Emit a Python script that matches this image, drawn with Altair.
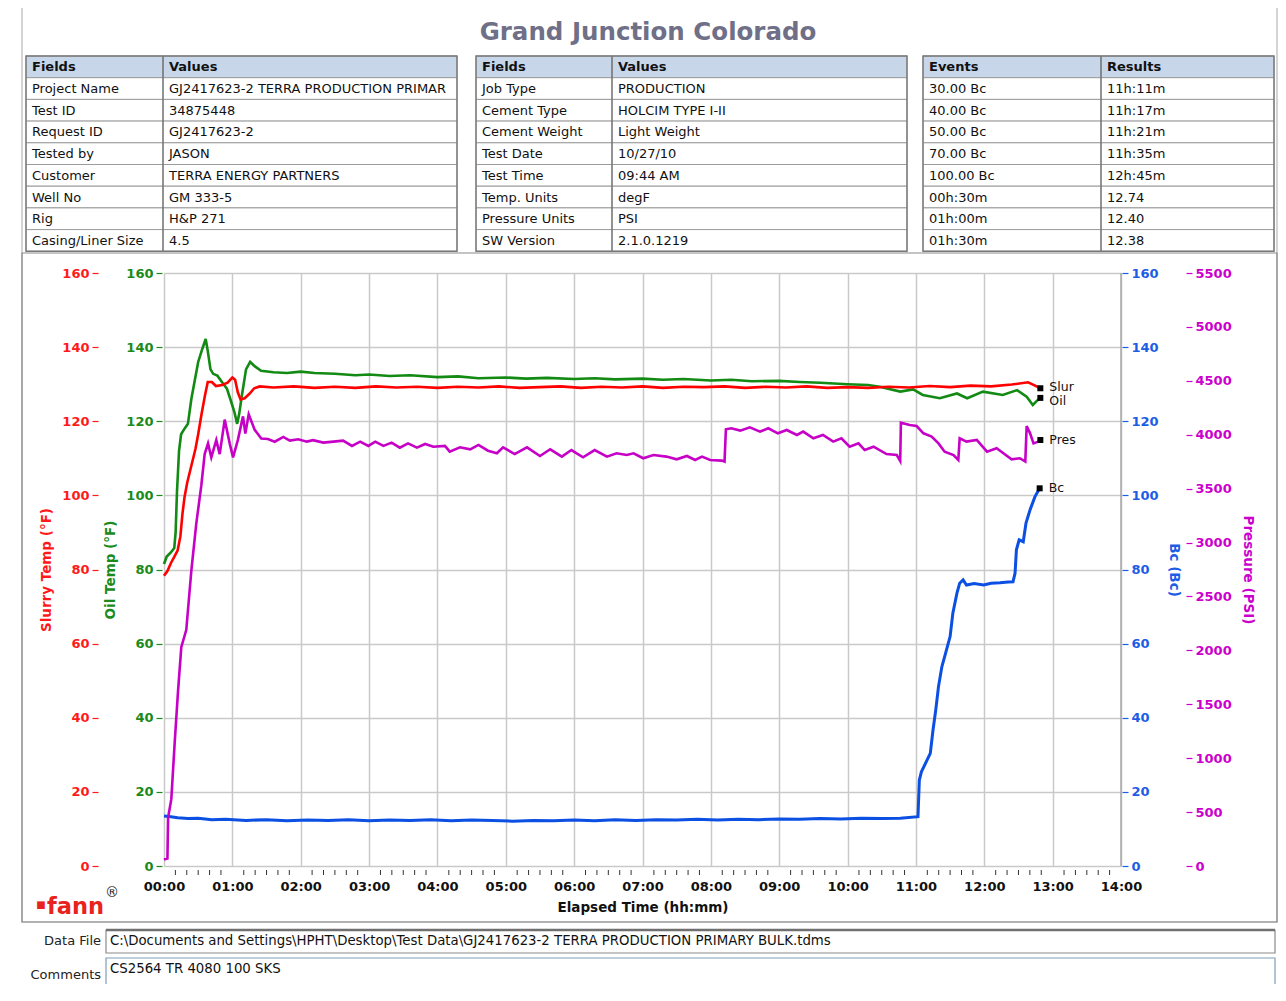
import altair as alt
import pandas as pd

# ------------------------------------------------------------------ data
TITLE = "Grand Junction Colorado"

T1_HEAD = ["Fields", "Values"]
T1_FIELDS = ["Project Name", "Test ID", "Request ID", "Tested by", "Customer",
             "Well No", "Rig", "Casing/Liner Size"]
T1_VALUES = ["GJ2417623-2 TERRA PRODUCTION PRIMAR", "34875448", "GJ2417623-2", "JASON",
             "TERRA ENERGY PARTNERS", "GM 333-5", "H&P 271", "4.5"]
T2_HEAD = ["Fields", "Values"]
T2_FIELDS = ["Job Type", "Cement Type", "Cement Weight", "Test Date", "Test Time",
             "Temp. Units", "Pressure Units", "SW Version"]
T2_VALUES = ["PRODUCTION", "HOLCIM TYPE I-II", "Light Weight", "10/27/10", "09:44 AM",
             "degF", "PSI", "2.1.0.1219"]
T3_HEAD = ["Events", "Results"]
T3_EVENTS = ["30.00 Bc", "40.00 Bc", "50.00 Bc", "70.00 Bc", "100.00 Bc",
             "00h:30m", "01h:00m", "01h:30m"]
T3_RESULTS = ["11h:11m", "11h:17m", "11h:21m", "11h:35m", "12h:45m",
              "12.74", "12.40", "12.38"]

DATA_FILE = "C:\\Documents and Settings\\HPHT\\Desktop\\Test Data\\GJ2417623-2 TERRA PRODUCTION PRIMARY BULK.tdms"
COMMENTS = "CS2564 TR 4080 100 SKS"

HOURS = list(range(0, 15))
TEMP_TICKS = list(range(0, 161, 20))
PRES_TICKS = list(range(0, 5501, 500))

slurry_t = [0, 0.05, 0.1, 0.15, 0.2, 0.24, 0.27, 0.3, 0.34, 0.4, 0.46, 0.5, 0.55, 0.6, 0.64,
            0.7, 0.76, 0.85, 0.93, 1.0, 1.04, 1.08, 1.12, 1.18, 1.25, 1.32, 1.4, 1.6, 1.9,
            2.2, 2.5, 2.8, 3.1, 3.4, 3.7, 4.0, 4.3, 4.6, 4.9, 5.2, 5.5, 5.8, 6.1, 6.4, 6.7,
            7.0, 7.3, 7.6, 7.9, 8.2, 8.5, 8.8, 9.1, 9.4, 9.7, 10.0, 10.3, 10.6, 10.9, 11.2,
            11.5, 11.8, 12.1, 12.4, 12.64, 12.72, 12.82]
slurry_v = [78.3, 79.6, 81.7, 83.4, 85.2, 89, 95, 99.5, 103.5, 108, 112.5, 116.5, 122, 127, 130.6,
            130.6, 129.5, 129.8, 130.4, 131.8, 131.2, 127.8, 125.9, 126.2, 127.4, 128.9, 129.4, 129.1, 129.4,
            129.0, 129.3, 129.0, 129.4, 129.1, 129.3, 129.0, 129.3, 129.1, 129.4, 129.0, 129.2, 129.4, 129.0, 129.3, 129.1,
            129.4, 129.0, 129.3, 129.2, 129.4, 129.0, 129.3, 129.1, 129.4, 129.0, 129.2, 129.0, 129.3, 129.1, 129.5,
            129.2, 129.6, 129.4, 129.9, 130.5, 129.8, 128.9]

oil_t = [0, 0.04, 0.1, 0.15, 0.17, 0.19, 0.22, 0.25, 0.3, 0.35, 0.4, 0.45, 0.5, 0.56, 0.61, 0.64,
         0.68, 0.72, 0.78, 0.85, 0.92, 0.97, 1.03, 1.07, 1.1, 1.14, 1.2, 1.26, 1.33, 1.42, 1.6,
         1.8, 2.0, 2.2, 2.5, 2.8, 3.0, 3.3, 3.6, 4.0, 4.3, 4.6, 5.0, 5.3, 5.6, 6.0, 6.3, 6.6,
         7.0, 7.3, 7.6, 8.0, 8.3, 8.6, 9.0, 9.3, 9.6, 10.0, 10.3, 10.47, 10.77, 10.96, 11.1,
         11.35, 11.6, 11.75, 11.98, 12.27, 12.48, 12.62, 12.71, 12.78, 12.82]
oil_v = [81.5, 83.5, 84.6, 85.8, 90, 101, 112, 116.5, 118, 119.3, 126, 131, 136, 139.5, 142.2, 139,
         134, 132.8, 132.3, 130.5, 128.8, 126, 122.5, 119.3, 122, 127, 134, 136, 134.8, 133.6, 133.2,
         133.0, 133.4, 133.0, 132.8, 132.4, 132.6, 132.2, 132.4, 131.9, 132.1, 131.6, 131.8, 131.5, 131.7, 131.4, 131.6, 131.3,
         131.5, 131.2, 131.4, 131.0, 131.2, 130.8, 130.9, 130.6, 130.4, 130.0, 129.8, 129.3, 128.0, 128.6, 127.1,
         126.2, 127.5, 126.2, 128.0, 127.1, 128.4, 126.6, 124.4, 125.7, 126.3]

pres_t = [0, 0.05, 0.06, 0.107, 0.156, 0.205, 0.253, 0.326, 0.4, 0.473, 0.546, 0.595, 0.644, 0.692,
          0.765, 0.815, 0.888, 0.961, 1.01, 1.08, 1.156, 1.19, 1.239, 1.327, 1.423, 1.52, 1.62, 1.745,
          1.84, 1.965, 2.09, 2.18, 2.33, 2.48, 2.62, 2.75, 2.87, 2.99, 3.09, 3.21, 3.33, 3.45, 3.57,
          3.70, 3.82, 3.94, 4.11, 4.18, 4.33, 4.48, 4.60, 4.74, 4.87, 4.96, 5.13, 5.31, 5.50, 5.65,
          5.82, 5.96, 6.13, 6.30, 6.48, 6.62, 6.77, 6.87, 7.01, 7.16, 7.35, 7.50, 7.65, 7.77, 7.87,
          7.99, 8.16, 8.20, 8.22, 8.30, 8.43, 8.57, 8.72, 8.84, 8.98, 9.11, 9.26, 9.35, 9.50, 9.64,
          9.79, 9.91, 10.03, 10.16, 10.25, 10.38, 10.57, 10.72, 10.77, 10.78, 10.91, 11.01, 11.11,
          11.23, 11.33, 11.42, 11.55, 11.62, 11.64, 11.74, 11.89, 12.04, 12.18, 12.28, 12.40, 12.52,
          12.60, 12.62, 12.67, 12.72, 12.79, 12.82]
pres_v = [60, 70, 450, 620, 1140, 1620, 2030, 2190, 2740, 3180, 3530, 3820, 3920, 3790,
          3950, 3820, 4140, 3920, 3790, 3950, 4170, 4010, 4190, 4045, 3965, 3960, 3935, 3980,
          3945, 3958, 3936, 3950, 3927, 3936, 3945, 3896, 3936, 3896, 3936, 3896, 3927, 3880, 3920,
          3880, 3914, 3889, 3896, 3843, 3883, 3865, 3905, 3852, 3828, 3883, 3821, 3883, 3803, 3865,
          3797, 3858, 3791, 3858, 3797, 3828, 3812, 3828, 3782, 3812, 3797, 3772, 3803, 3766, 3797,
          3766, 3760, 3751, 4051, 4060, 4038, 4069, 4029, 4060, 4013, 4044, 3998, 4029, 3967, 3998,
          3936, 3967, 3889, 3920, 3858, 3889, 3821, 3812, 3757, 4112, 4091, 4081, 4013,
          3982, 3920, 3843, 3812, 3766, 3967, 3936, 3951, 3843, 3874, 3828, 3772, 3782,
          3751, 4081, 4013, 3920, 3936, 3951]

bc_t = [0, 0.1, 0.2, 0.35, 0.5, 0.7, 0.9, 1.2, 1.5, 1.8, 2.1, 2.4, 2.7, 3.0, 3.3, 3.6, 3.9, 4.2,
        4.5, 4.8, 5.1, 5.4, 5.7, 6.0, 6.3, 6.6, 6.9, 7.2, 7.5, 7.8, 8.1, 8.4, 8.7, 9.0, 9.3, 9.6,
        9.9, 10.2, 10.5, 10.77, 11.03, 11.05, 11.08, 11.21, 11.25, 11.29, 11.33, 11.38, 11.42,
        11.50, 11.54, 11.60, 11.64, 11.69, 11.74, 11.85, 11.99, 12.1, 12.23, 12.35, 12.42, 12.45,
        12.47, 12.51, 12.57, 12.61, 12.67, 12.74, 12.81]
bc_v = [13.5, 13.3, 13.0, 12.8, 12.9, 12.5, 12.6, 12.3, 12.5, 12.2, 12.4, 12.3, 12.5, 12.2, 12.4, 12.3, 12.5, 12.2,
        12.4, 12.3, 12.1, 12.3, 12.2, 12.4, 12.2, 12.5, 12.3, 12.5, 12.4, 12.6, 12.4, 12.6, 12.5, 12.7, 12.6, 12.8,
        12.7, 12.9, 12.8, 12.9, 13.3, 23.2, 25.4, 30.4, 36.7, 42.1, 48.4, 53.8, 56.5,
        61.9, 68.2, 73.6, 76.3, 77.2, 75.8, 76.2, 75.8, 76.3, 76.4, 76.6, 76.7, 79.0,
        85.3, 88.0, 87.5, 92.5, 96.1, 99.6, 101.9]

# ------------------------------------------------------------------ layout
FONT = "DejaVu Sans"
W, H = 957, 593
PAD = {"left": 156, "top": 265, "right": 157, "bottom": 118}
X0 = 8 + PAD["left"]   # page x of plot left edge
Y0 = 8 + PAD["top"]    # page y of plot top edge

PX = alt.Scale(domain=[0, 1286], range=[-X0, 1286 - X0], nice=False, zero=False)
PY = alt.Scale(domain=[0, 1001], range=[-Y0, 1001 - Y0], nice=False, zero=False)


def vx(px):
    return alt.value(px - X0)


def vy(py):
    return alt.value(py - Y0)


def pxq(f):
    return alt.X(f"{f}:Q", scale=PX, axis=None)


def pyq(f):
    return alt.Y(f"{f}:Q", scale=PY, axis=None)


layers = []

# outer frame & chart frame
frames = pd.DataFrame({"x0": [22, 22], "x1": [1277, 1277], "y0": [4, 253], "y1": [922, 922],
                       "c": ["#b8b8b8", "#8a8a8a"]})
layers.append(alt.Chart(frames).mark_rect(fillOpacity=0, strokeWidth=1.2).encode(
    x=pxq("x0"), x2="x1", y=pyq("y0"), y2="y1",
    stroke=alt.Stroke("c:N", scale=None)))

# title
layers.append(alt.Chart(pd.DataFrame({"t": [TITLE]})).mark_text(
    font=FONT, fontSize=24.5, fontWeight="bold", color="#6f6f88", baseline="middle", align="center"
).encode(x=vx(648), y=vy(33), text="t:N"))

# tables
TBL_LEFT = [26, 476, 923]
TBL_DIV = [163, 612, 1101]
TBL_RIGHT = [457, 907, 1274]
TBL_TOP = 56
ROW_H = 21.7
tables = [(T1_HEAD, T1_FIELDS, T1_VALUES), (T2_HEAD, T2_FIELDS, T2_VALUES),
          (T3_HEAD, T3_EVENTS, T3_RESULTS)]
rows = []
for k, (head, labs, vals) in enumerate(tables):
    all_l = [head[0]] + labs
    all_v = [head[1]] + vals
    for r in range(9):
        rows.append(dict(x0=TBL_LEFT[k], xd=TBL_DIV[k], x1=TBL_RIGHT[k],
                         lx=TBL_LEFT[k] + 6, vxp=TBL_DIV[k] + 6,
                         y0=TBL_TOP + r * ROW_H, y1=TBL_TOP + (r + 1) * ROW_H,
                         yc=TBL_TOP + (r + 0.5) * ROW_H + 0.5,
                         lab=all_l[r], val=all_v[r], head=(r == 0)))
cells = pd.DataFrame(rows)
head_df = cells[cells["head"]]
body_df = cells[~cells["head"]]

layers.append(alt.Chart(cells).mark_rect(stroke="#9c9c9c", strokeWidth=1).encode(
    x=pxq("x0"), x2="x1", y=pyq("y0"), y2="y1",
    fill=alt.condition("datum.head", alt.value("#c8d6ea"), alt.value("white"))))
layers.append(alt.Chart(cells).mark_rule(color="#6e6e6e", strokeWidth=1.5).encode(
    x=pxq("xd"), y=pyq("y0"), y2="y1"))
tbl_outline = pd.DataFrame({"x0": TBL_LEFT, "x1": TBL_RIGHT, "y0": [TBL_TOP] * 3,
                            "y1": [TBL_TOP + 9 * ROW_H] * 3})
layers.append(alt.Chart(tbl_outline).mark_rect(fillOpacity=0, stroke="#7a7a7a", strokeWidth=1.4).encode(
    x=pxq("x0"), x2="x1", y=pyq("y0"), y2="y1"))
for col_x, col_t in (("lx", "lab"), ("vxp", "val")):
    layers.append(alt.Chart(head_df).mark_text(
        font=FONT, fontSize=13, fontWeight="bold", color="#111", align="left", baseline="middle"
    ).encode(x=pxq(col_x), y=pyq("yc"), text=f"{col_t}:N"))
    layers.append(alt.Chart(body_df).mark_text(
        font=FONT, fontSize=13, color="#111", align="left", baseline="middle"
    ).encode(x=pxq(col_x), y=pyq("yc"), text=f"{col_t}:N"))

# bottom data-file / comments boxes
boxes = pd.DataFrame({"x0": [106, 106], "x1": [1275, 1275], "y0": [930, 958], "y1": [953, 1001],
                      "c": ["#8a8a8a", "#7f9db9"]})
layers.append(alt.Chart(boxes).mark_rect(fill="white", strokeWidth=1.2).encode(
    x=pxq("x0"), x2="x1", y=pyq("y0"), y2="y1", stroke=alt.Stroke("c:N", scale=None)))
layers.append(alt.Chart(pd.DataFrame({"a": [0]})).mark_rule(color="#707070", strokeWidth=2.5).encode(
    x=vx(106), x2=vx(1275), y=vy(930)))
side = pd.DataFrame({"t": ["Data File", "Comments"], "y": [941, 975]})
layers.append(alt.Chart(side).mark_text(font=FONT, fontSize=13, color="#222", align="right",
                                        baseline="middle").encode(x=vx(101), y=pyq("y"), text="t:N"))
boxtxt = pd.DataFrame({"t": [DATA_FILE, COMMENTS], "y": [941, 969]})
layers.append(alt.Chart(boxtxt).mark_text(font=FONT, fontSize=13.3, color="#111", align="left",
                                          baseline="middle").encode(x=vx(110), y=pyq("y"), text="t:N"))

# fann logo
layers.append(alt.Chart(pd.DataFrame({"t": ["fann"]})).mark_text(
    font=FONT, fontSize=22.5, fontWeight="bold", color="#e8231e", align="left", baseline="alphabetic"
).encode(x=vx(47), y=vy(914), text="t:N"))
layers.append(alt.Chart(pd.DataFrame({"t": ["\u25a0"]})).mark_text(
    font=FONT, fontSize=10, color="#e8231e", align="center", baseline="middle"
).encode(x=vx(41), y=vy(905), text="t:N"))
layers.append(alt.Chart(pd.DataFrame({"t": ["\u00ae"]})).mark_text(
    font=FONT, fontSize=14, color="#222", align="left", baseline="middle"
).encode(x=vx(105), y=vy(893), text="t:N"))

# ------------------------------------------------------------------ plot series
XSC = alt.Scale(domain=[0, 14], nice=False, zero=False)
x_axis = alt.Axis(values=HOURS, labelExpr="(datum.value < 10 ? '0' : '') + datum.value + ':00'",
                  grid=True, gridColor="#c9c9c9", gridWidth=1.5, ticks=False, tickSize=0,
                  domain=False, labelPadding=14, labelFont=FONT, labelFontSize=13,
                  labelFontWeight="bold", labelColor="#111", labelFlush=False,
                  title="Elapsed Time (hh:mm)", titleFont=FONT, titleFontSize=13.5,
                  titleFontWeight="bold", titleColor="#111", titlePadding=7)


def yaxis(orient, offset, values, color, title, tpad, grid=False):
    return alt.Axis(orient=orient, offset=offset, values=values, grid=grid, gridColor="#c9c9c9",
                    gridWidth=1.5, domain=False, tickSize=6, tickColor=color, tickWidth=1.2,
                    labelColor=color, labelFont=FONT, labelFontSize=13, labelFontWeight="bold",
                    labelPadding=3, labelOverlap=False, format="d", title=title, titleColor=color,
                    titleFont=FONT, titleFontSize=13.5, titleFontWeight="bold", titlePadding=tpad)


def series(t, v, label, color, ydom, axis, sw, show_x=False, ldy=0):
    df = pd.DataFrame({"t": t, "v": v})
    end = df.tail(1).assign(label=label)
    xe = alt.X("t:Q", scale=XSC, axis=x_axis if show_x else None)
    ye = alt.Y("v:Q", scale=alt.Scale(domain=ydom, nice=False, zero=False), axis=axis)
    line = alt.Chart(df).mark_line(color=color, strokeWidth=sw).encode(x=xe, y=ye)
    pt = alt.Chart(end).mark_point(shape="square", filled=True, color="black", size=36,
                                   opacity=1).encode(x=xe, y=ye)
    tx = alt.Chart(end).mark_text(font=FONT, fontSize=12.5, color="#111", align="left", dx=9, dy=ldy,
                                  baseline="middle").encode(x=xe, y=ye, text="label:N")
    return alt.layer(line, pt, tx)


bc_g = series(bc_t, bc_v, "Bc", "#0b4fe3", [0, 160],
              yaxis("right", 1, TEMP_TICKS, "#1d5de6", "Bc (Bc)", 8), 3)
pres_g = series(pres_t, pres_v, "Pres", "#c600c6", [0, 5500],
                yaxis("right", 65, PRES_TICKS, "#cc00cc", "Pressure (PSI)", 9), 2.6)
oil_g = series(oil_t, oil_v, "Oil", "#138a13", [0, 160],
               yaxis("left", 2, TEMP_TICKS, "#1a8a1a", "Oil Temp (\u00b0F)", 8, grid=True), 2.6, ldy=3)
slur_g = series(slurry_t, slurry_v, "Slur", "#ff0000", [0, 160],
                yaxis("left", 66, TEMP_TICKS, "#ff1a1a", "Slurry Temp (\u00b0F)", 8), 2.6, show_x=True,
                ldy=-1)

# minor ticks under the time axis (every 10 minutes)
MINOR = [h + m / 60 for h in range(14) for m in (10, 20, 30, 40, 50)]
minor = alt.Chart(pd.DataFrame({"t": MINOR})).mark_rule(color="#333", strokeWidth=1).encode(
    x=alt.X("t:Q", scale=XSC, axis=None), y=alt.value(H + 4), y2=alt.value(H + 9))
# right plot edge in light grey
redge = alt.Chart(pd.DataFrame({"a": [0]})).mark_rule(color="#a8a8a8", strokeWidth=1.5).encode(
    x=alt.value(W), y=alt.value(0), y2=alt.value(H))

chart = alt.layer(*layers, minor, bc_g, pres_g, oil_g, slur_g, redge).resolve_scale(
    x="independent", y="independent"
).properties(
    width=W, height=H, padding=PAD, autosize=alt.AutoSizeParams(type="none")
).configure_view(stroke="#3c3c3c", strokeWidth=1.3).configure(font=FONT, background="white")

chart.save("out.html", embed_options={"renderer": "svg", "actions": False})
